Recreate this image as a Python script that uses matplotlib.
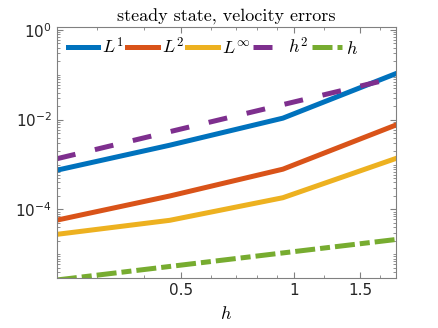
import numpy as np
from matplotlib import pyplot as plt
from matplotlib.ticker import FixedLocator, NullFormatter

plt.rcParams['mathtext.fontset'] = 'cm'

# mesh sizes and errors
h = [0.234, 0.4675, 0.935, 1.87]
err_L1 = [7.5e-4, 2.7e-3, 1.08e-2, 1.06e-1]
err_L2 = [5.8e-5, 2.0e-4, 7.9e-4, 7.6e-3]
err_Linf = [2.8e-5, 5.75e-5, 1.83e-4, 1.37e-3]
ref_h2 = [1.35e-3, 5.4e-3, 2.16e-2, 8.65e-2]
ref_h = [2.7e-6, 5.4e-6, 1.08e-5, 2.15e-5]

xticks = [0.5, 1, 1.5]
xtick_labels = ['0.5', '1', '1.5']
yticks = [1e-4, 1e-2, 1e0]
ytick_labels = ['-4', '-2', '0']

fig = plt.figure(figsize=(4.38, 3.28), dpi=100)
ax = fig.add_axes([0.130, 0.1515, 0.774, 0.767])

lw = 3.6
ax.loglog(h, err_L1, color='#0072BD', lw=lw, label='$L^1$')
ax.loglog(h, err_L2, color='#D95319', lw=lw, label='$L^2$')
ax.loglog(h, err_Linf, color='#EDB120', lw=lw, label='$L^\\infty$')
ax.loglog(h, ref_h2, color='#7E2F8E', lw=lw, dashes=(3.8, 4), label='$h^2$')
ax.loglog(h, ref_h, color='#77AC30', lw=lw, dashes=(4, 1, 2, 1), label='$h$')

ax.set_xlim(h[0], h[-1])
ax.set_ylim(2.94e-6, 1.17)

ax.xaxis.set_major_locator(FixedLocator(xticks))
ax.xaxis.set_minor_locator(FixedLocator([0.3, 0.4, 0.6, 0.7, 0.8, 0.9, 1.2, 1.7]))
ax.xaxis.set_minor_formatter(NullFormatter())
ax.set_xticklabels(xtick_labels)

ax.yaxis.set_major_locator(FixedLocator(yticks))
ymin = [m * 10.0**e for e in range(-6, 1) for m in range(1, 10)]
ax.yaxis.set_minor_locator(FixedLocator(ymin))
ax.yaxis.set_minor_formatter(NullFormatter())
ax.set_yticklabels(['$\\mathregular{10^{%s}}$' % s for s in ytick_labels])
for t in ax.get_yticklabels():
    t.set_math_fontfamily('dejavusans')

ax.tick_params(which='both', direction='in', top=True, right=True,
               colors='#808080', labelcolor='#262626', labelsize=11)
ax.tick_params(which='major', length=4)
ax.tick_params(which='minor', length=2)
for s in ax.spines.values():
    s.set_color('#808080')
    s.set_linewidth(0.8)

ax.set_title('steady state, velocity errors', fontfamily='cmr10', fontsize=13, pad=4)
ax.set_xlabel('$h$', fontsize=13, labelpad=5)

ax.legend(loc='upper left', ncol=5, frameon=False, fontsize=13,
          handlelength=1.7, handletextpad=0.2, columnspacing=0.2,
          borderpad=0, borderaxespad=0, bbox_to_anchor=(0.032, 0.958))

plt.savefig('out.png')
